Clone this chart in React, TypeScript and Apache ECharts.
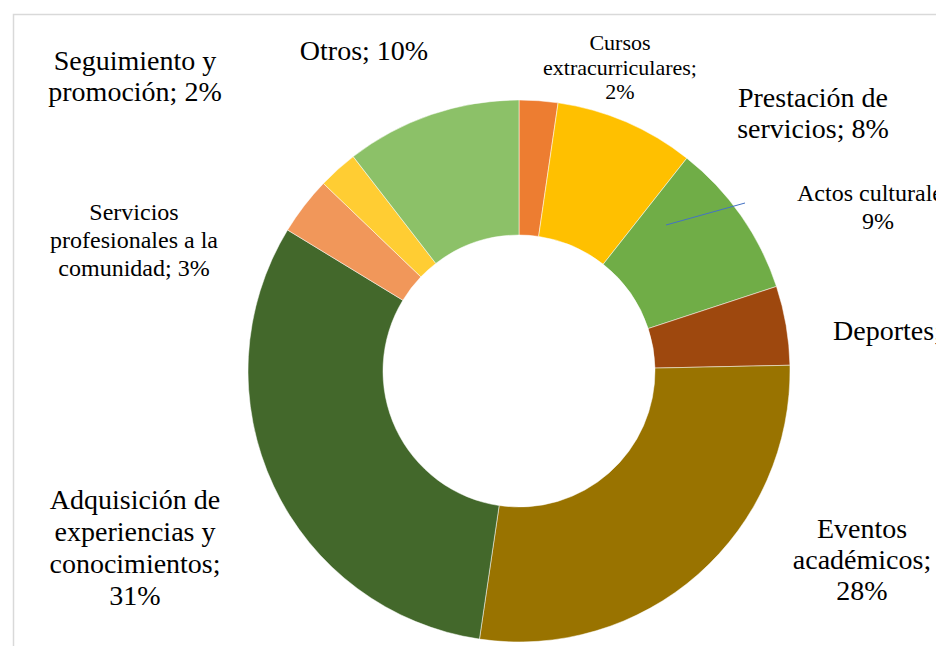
import React, { useEffect, useRef } from "react";
import * as echarts from "echarts";

const categories = [
  "Cursos extracurriculares",
  "Prestación de servicios",
  "Actos culturales",
  "Deportes",
  "Eventos académicos",
  "Adquisición de experiencias y conocimientos",
  "Servicios profesionales a la comunidad",
  "Seguimiento y promoción",
  "Otros",
];
const values = [2.3, 8.3, 9.3, 4.7, 27.6, 31.3, 3.45, 2.35, 10.45];
const colors = ["#ED7D31", "#FFC000", "#70AD47", "#9E480E", "#997300", "#43682B", "#F1975A", "#FFCD33", "#8CC168"];

// label styling / layout (not data)
const labelFont = [22, 28, 24, 28, 28, 28, 24, 28, 28];
const labelLH = [24.5, 31, 28, 31, 31, 32, 28, 31, 31];
const labelBreakAfter: number[][] = [[1, 2], [2], [2], [], [1, 2], [2, 4, 5], [1, 4], [2], []];
const labelPos: [number, number, string][] = [
  [620, 67, "center"],
  [813, 113, "center"],
  [878, 207, "center"],
  [833, 330, "left"],
  [862, 559, "center"],
  [135, 547, "center"],
  [134, 240, "center"],
  [135, 76, "center"],
  [364, 50, "center"],
];
const FONT = "'Liberation Serif', 'Times New Roman', serif";

function wrapLabel(text: string, breaks: number[]) {
  const words = text.split(" ");
  let out = "";
  words.forEach((w, i) => {
    if (i > 0) out += breaks.includes(i) ? "\n" : " ";
    out += w;
  });
  return out;
}

export default function App() {
  const ref = useRef<HTMLDivElement>(null);
  useEffect(() => {
    if (!ref.current) return;
    const chart = echarts.init(ref.current, null, { renderer: "svg" });
    const data = categories.map((name, i) => ({
      name,
      value: values[i],
      itemStyle: { color: colors[i] },
      label: {
        fontFamily: FONT,
        fontSize: labelFont[i],
        lineHeight: labelLH[i],
        align: labelPos[i][2],
        color: "#000000",
      },
    }));
    chart.setOption({
      animation: false,
      backgroundColor: "#ffffff",
      textStyle: { fontFamily: FONT },
      graphic: [
        {
          type: "rect",
          shape: { x: 13.5, y: 14.5, width: 1000, height: 1000 },
          style: { fill: "none", stroke: "#D9D9D9", lineWidth: 1.5 },
          z: -1,
        },
        {
          type: "line",
          shape: { x1: 666, y1: 225, x2: 745, y2: 203 },
          style: { stroke: "#4472C4", lineWidth: 1 },
          z: 100,
        },
      ],
      series: [
        {
          type: "pie",
          center: [519, 371],
          radius: [136, 271],
          startAngle: 90,
          clockwise: true,
          avoidLabelOverlap: false,
          itemStyle: { borderColor: "#ffffff", borderWidth: 0.5 },
          label: {
            show: true,
            position: "outside",
            color: "#000000",
            fontFamily: FONT,
            formatter: (p: any) =>
              wrapLabel(`${p.name}; ${Math.round(p.percent)}%`, labelBreakAfter[p.dataIndex]),
          },
          labelLine: { show: false },
          labelLayout: (p: any) => {
            const pos = labelPos[p.dataIndex];
            return { x: pos[0], y: pos[1], align: pos[2], verticalAlign: "middle" };
          },
          data,
        },
      ],
    });
    return () => chart.dispose();
  }, []);
  return (
    <div
      ref={ref}
      style={{ position: "absolute", left: 0, top: 0, width: 936, height: 646 }}
    />
  );
}
